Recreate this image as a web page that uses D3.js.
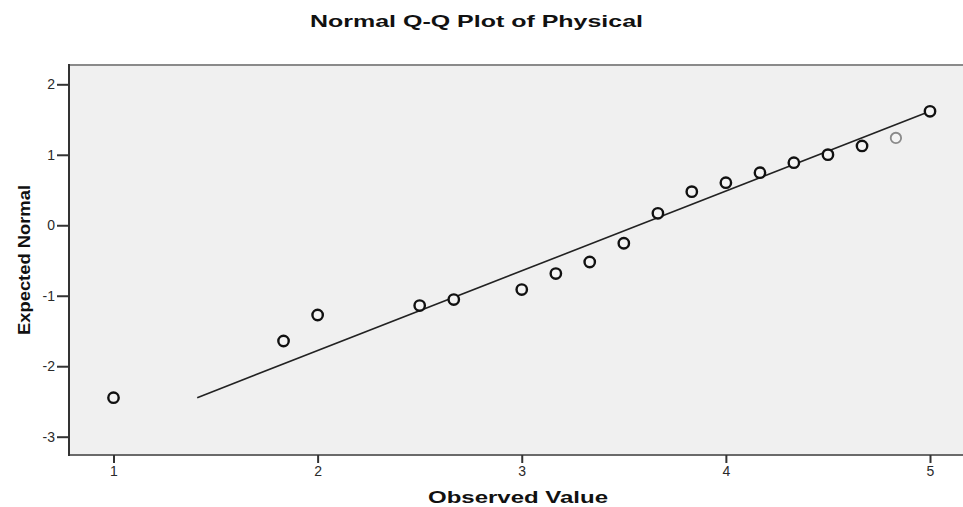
<!DOCTYPE html>
<html>
<head>
<meta charset="utf-8">
<script src="https://cdn.jsdelivr.net/npm/d3@7"></script>
<style>
  body { margin: 0; background: #fff; }
  svg { display: block; font-family: "Liberation Sans", Arial, sans-serif; }
  .axis text { font-size: 14px; fill: #2a2a2a; }
</style>
</head>
<body>
<div id="chart"></div>
<script>

const observed = [1, 1.833, 2, 2.5, 2.667, 3, 3.167, 3.333, 3.5, 3.667, 3.833, 4, 4.167, 4.333, 4.5, 4.667, 4.833, 5];
const expected = [-2.446, -1.642, -1.273, -1.139, -1.054, -0.912, -0.685, -0.521, -0.255, 0.170, 0.477, 0.604, 0.746, 0.888, 1.002, 1.125, 1.239, 1.617];
const lightPoint = [false, false, false, false, false, false, false, false, false, false, false, false, false, false, false, false, true, false];

// reference line end points
const lineX = [1.41, 5];
const lineY = [-2.446, 1.617];

const xTicks = [1, 2, 3, 4, 5];
const yTicks = [2, 1, 0, -1, -2, -3];

const titleText = "Normal Q-Q Plot of Physical";
const xLabel = "Observed Value";
const yLabel = "Expected Normal";

function qqPlot(element) {

  const width = 963, height = 507;
  const plot = {left: 69, top: 65, right: 965, bottom: 455};

  const xScale = d3.scaleLinear()
    .domain([1, 5])
    .range([113.5, 930]);
  const yScale = d3.scaleLinear()
    .domain([2, -3])
    .range([84.3, 436.7]);

  const svg = d3.select(element)
    .append("svg")
    .attr("width", width)
    .attr("height", height);

  // plot background
  svg.append("rect")
    .attr("x", plot.left)
    .attr("y", plot.top)
    .attr("width", plot.right - plot.left)
    .attr("height", plot.bottom - plot.top)
    .attr("fill", "#f0f0f0");

  // frame lines
  svg.append("line")
    .attr("x1", plot.left).attr("x2", plot.right)
    .attr("y1", plot.top).attr("y2", plot.top)
    .attr("stroke", "#8a8a8a").attr("stroke-width", 2);
  svg.append("line")
    .attr("x1", plot.left).attr("x2", plot.right)
    .attr("y1", plot.bottom).attr("y2", plot.bottom)
    .attr("stroke", "#6a6a6a").attr("stroke-width", 2);

  // axes
  const xAxis = d3.axisBottom(xScale)
    .tickValues(xTicks)
    .tickSize(8)
    .tickPadding(3)
    .tickFormat(d3.format("d"));
  const yAxis = d3.axisLeft(yScale)
    .tickValues(yTicks)
    .tickSize(12)
    .tickPadding(2)
    .tickFormat(d => d < 0 ? "-" + Math.abs(d) : d);

  const gx = svg.append("g")
    .attr("class", "axis")
    .attr("transform", "translate(0," + plot.bottom + ")")
    .call(xAxis)
    .attr("font-size", 14);
  gx.select(".domain").remove();

  const gy = svg.append("g")
    .attr("class", "axis")
    .attr("transform", "translate(" + plot.left + ",0)")
    .call(yAxis)
    .attr("font-size", 14);
  gy.select(".domain").remove();

  svg.append("line")
    .attr("x1", plot.left).attr("x2", plot.left)
    .attr("y1", plot.top - 1).attr("y2", plot.bottom + 1)
    .attr("stroke", "#333").attr("stroke-width", 2);

  svg.selectAll(".tick line")
    .attr("stroke", "#333")
    .attr("stroke-width", 2);

  // reference line
  const line = d3.line()
    .x(function (d) { return xScale(d[0]); })
    .y(function (d) { return yScale(d[1]); });

  svg.append("path")
    .datum(d3.zip(lineX, lineY))
    .attr("d", line)
    .attr("fill", "none")
    .attr("stroke", "#222")
    .attr("stroke-width", 1.6);

  // points
  svg.selectAll("circle.pt")
    .data(d3.range(observed.length))
    .enter()
    .append("circle")
    .attr("class", "pt")
    .attr("r", 5.2)
    .attr("cx", function (i) { return xScale(observed[i]); })
    .attr("cy", function (i) { return yScale(expected[i]); })
    .attr("fill", "#f4f4f4")
    .attr("stroke", function (i) { return lightPoint[i] ? "#8a8a8a" : "#111"; })
    .attr("stroke-width", function (i) { return lightPoint[i] ? 1.8 : 2.4; });

  // titles
  svg.append("text")
    .attr("x", 476.5)
    .attr("y", 27)
    .attr("text-anchor", "middle")
    .attr("textLength", 333)
    .attr("lengthAdjust", "spacingAndGlyphs")
    .style("font-size", "17px")
    .style("font-weight", "bold")
    .attr("fill", "#111")
    .text(titleText);

  svg.append("text")
    .attr("x", 518)
    .attr("y", 503)
    .attr("text-anchor", "middle")
    .attr("textLength", 180)
    .attr("lengthAdjust", "spacingAndGlyphs")
    .style("font-size", "17px")
    .style("font-weight", "bold")
    .attr("fill", "#111")
    .text(xLabel);

  svg.append("text")
    .attr("transform", "translate(30," + ((plot.top + plot.bottom) / 2) + ") rotate(-90)")
    .attr("text-anchor", "middle")
    .attr("textLength", 150)
    .attr("lengthAdjust", "spacingAndGlyphs")
    .style("font-size", "17px")
    .style("font-weight", "bold")
    .attr("fill", "#111")
    .text(yLabel);
}

qqPlot("#chart");
</script>
</body>
</html>
